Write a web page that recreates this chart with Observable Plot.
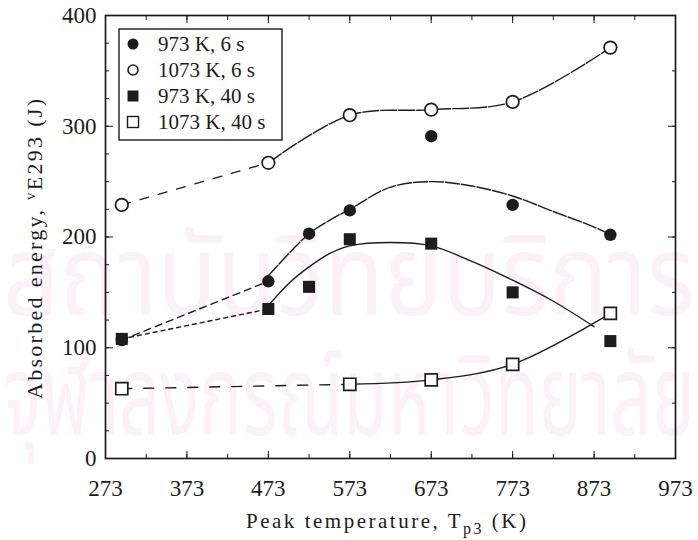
<!DOCTYPE html>
<html><head><meta charset="utf-8">
<script src="https://cdn.jsdelivr.net/npm/d3@7"></script>
<script src="https://cdn.jsdelivr.net/npm/@observablehq/plot@0.6"></script>
<style>
body{margin:0;background:#fff}
#chart{position:relative;width:698px;height:540px}
</style>
</head><body><div id="chart"></div>
<script>
// Measured data (peak temperature Tp3 in K, absorbed energy in J)
const temps = [293, 473, 523, 573, 673, 773, 893];
const e973_6 = [107, 160, 203, 224, 291, 229, 202];       // 973 K, 6 s (filled circle)
const temps1073_6 = [293, 473, 573, 673, 773, 893];
const e1073_6 = [229, 267, 310, 315, 322, 371];            // 1073 K, 6 s (open circle)
const e973_40 = [108, 135, 155, 198, 194, 150, 106];      // 973 K, 40 s (filled square)
const temps1073_40 = [293, 573, 673, 773, 893];
const e1073_40 = [63, 67, 71, 85, 131];                    // 1073 K, 40 s (open square)

// Fitted curves
const fit973_6T = [473, 498, 523, 548, 573, 623, 673, 723, 773, 823, 873, 893];
const fit973_6 = [165, 185, 203, 215, 225, 245, 250, 246, 237, 223, 209, 202];
const fit973_40T = [473, 498, 523, 548, 573, 623, 673, 723, 773, 823, 873];
const fit973_40 = [138, 158, 173, 185, 192, 195, 192, 178, 161, 142, 119];

const xTicks = [273, 373, 473, 573, 673, 773, 873, 973];
const xMinor = d3.range(273, 974, 50);
const yTicks = [0, 100, 200, 300, 400];
const yMinorLeft = d3.range(0, 401, 25);
const yMinorRight = d3.range(0, 401, 50);

const legendLabels = ["973 K, 6 s", "1073 K, 6 s", "973 K, 40 s", "1073 K, 40 s"];

const pts = (xs, ys) => xs.map((x, i) => ({x, y: ys[i]}));
const ink = "#1c1c1c";
const serif = "'Liberation Serif', 'DejaVu Serif', serif";

const lineOpt = {x: "x", y: "y", stroke: ink, strokeWidth: 1.4};
const emptyFmt = () => "";

const plot = Plot.plot({
  width: 698, height: 540,
  marginLeft: 105, marginRight: 23, marginTop: 15, marginBottom: 82,
  style: {fontFamily: serif, background: "transparent", color: ink},
  x: {domain: [273, 973]},
  y: {domain: [0, 400]},
  marks: [
    // labels
    Plot.axisX({ticks: xTicks, tickSize: 0, tickPadding: 21, fontSize: 23, label: null}),
    Plot.axisY({ticks: yTicks, tickSize: 0, tickPadding: 9, fontSize: 23, label: null}),
    // inward ticks
    Plot.axisX({ticks: xMinor, tickSize: -4, tickFormat: emptyFmt, label: null}),
    Plot.axisX({ticks: xTicks, tickSize: -7, tickFormat: emptyFmt, label: null}),
    Plot.axisX({anchor: "top", ticks: xMinor, tickSize: -4, tickFormat: emptyFmt, label: null}),
    Plot.axisX({anchor: "top", ticks: xTicks, tickSize: -7, tickFormat: emptyFmt, label: null}),
    Plot.axisY({ticks: yMinorLeft, tickSize: -4, tickFormat: emptyFmt, label: null}),
    Plot.axisY({ticks: yTicks, tickSize: -8, tickFormat: emptyFmt, label: null}),
    Plot.axisY({anchor: "right", ticks: yMinorRight, tickSize: -4, tickFormat: emptyFmt, label: null}),
    Plot.axisY({anchor: "right", ticks: yTicks, tickSize: -8, tickFormat: emptyFmt, label: null}),

    // lines
    Plot.line(pts(temps.slice(0, 2), e973_6.slice(0, 2)), {...lineOpt, strokeDasharray: "7,5"}),
    Plot.line(pts(fit973_6T, fit973_6), {...lineOpt, curve: "catmull-rom", strokeDasharray: "14,2"}),
    Plot.line(pts(temps1073_6.slice(0, 2), e1073_6.slice(0, 2)), {...lineOpt, strokeDasharray: "9,10"}),
    Plot.line(pts(temps1073_6.slice(1), e1073_6.slice(1)), {...lineOpt, curve: "catmull-rom", strokeDasharray: "16,2"}),
    Plot.line(pts(temps.slice(0, 2), e973_40.slice(0, 2)), {...lineOpt, strokeDasharray: "4,4"}),
    Plot.line(pts(fit973_40T, fit973_40), {...lineOpt, curve: "catmull-rom"}),
    Plot.line(pts(temps1073_40.slice(0, 2), e1073_40.slice(0, 2)), {...lineOpt, strokeDasharray: "10,12"}),
    Plot.line(pts(temps1073_40.slice(1), e1073_40.slice(1)), {...lineOpt, curve: "catmull-rom"}),

    // points
    Plot.dot(pts(temps, e973_6), {x: "x", y: "y", r: 6.2, fill: ink, stroke: null}),
    Plot.dot(pts(temps1073_6, e1073_6), {x: "x", y: "y", r: 6.3, fill: "white", stroke: ink, strokeWidth: 1.7}),
    Plot.dot(pts(temps, e973_40), {x: "x", y: "y", symbol: "square", r: 6.8, fill: ink, stroke: null}),
    Plot.dot(pts(temps1073_40, e1073_40), {x: "x", y: "y", symbol: "square", r: 6.8, fill: "white", stroke: ink, strokeWidth: 1.7}),

    Plot.frame({stroke: ink, strokeWidth: 1.7})
  ]
});

document.getElementById("chart").appendChild(plot);
const svg = d3.select(plot);

// faint watermark behind the chart
const wm = svg.insert("g", ":first-child").attr("fill", "#fbf1f6").attr("text-anchor", "start")
  .attr("font-family", "'Noto Sans Thai', 'Noto Sans', 'DejaVu Sans', sans-serif");
wm.append("text").attr("x", 3).attr("y", 315).attr("font-size", 112)
  .attr("textLength", 692).attr("lengthAdjust", "spacingAndGlyphs").text("สถาบันวิทยบริการ");
wm.append("text").attr("x", 3).attr("y", 435).attr("font-size", 112)
  .attr("textLength", 692).attr("lengthAdjust", "spacingAndGlyphs").text("จุฬาลงกรณ์มหาวิทยาลัย");

// axis titles
const xt = svg.append("text").attr("x", 386).attr("y", 528).attr("text-anchor", "middle")
  .attr("font-family", serif).attr("font-size", 21).attr("fill", ink)
  .attr("textLength", 280).attr("lengthAdjust", "spacing");
xt.append("tspan").text("Peak temperature, T");
xt.append("tspan").attr("font-size", 16).attr("dy", 6).text("p3");
xt.append("tspan").attr("dy", -6).text(" (K)");

const yt = svg.append("text").attr("transform", "translate(42,249) rotate(-90)").attr("text-anchor", "middle")
  .attr("font-family", serif).attr("font-size", 22).attr("fill", ink)
  .attr("textLength", 300).attr("lengthAdjust", "spacing");
yt.append("tspan").text("Absorbed energy, ");
yt.append("tspan").attr("font-size", 15).attr("dy", -7).text("v");
yt.append("tspan").attr("dy", 7).text("E293 (J)");

// legend
const lg = svg.append("g").attr("font-family", serif).attr("font-size", 21).attr("fill", ink).attr("text-anchor", "start");
lg.append("rect").attr("x", 119).attr("y", 29).attr("width", 163).attr("height", 111)
  .attr("fill", "white").attr("stroke", ink).attr("stroke-width", 1.4);
const rowY = [44, 70, 96, 122];
const sx = 133;
lg.append("circle").attr("cx", sx).attr("cy", rowY[0]).attr("r", 5.5).attr("fill", ink);
lg.append("circle").attr("cx", sx).attr("cy", rowY[1]).attr("r", 5).attr("fill", "white").attr("stroke", ink).attr("stroke-width", 1.6);
lg.append("rect").attr("x", sx - 5.5).attr("y", rowY[2] - 5.5).attr("width", 11).attr("height", 11).attr("fill", ink);
lg.append("rect").attr("x", sx - 5.5).attr("y", rowY[3] - 5.5).attr("width", 11).attr("height", 11).attr("fill", "white").attr("stroke", ink).attr("stroke-width", 1.4);
legendLabels.forEach((t, i) => {
  lg.append("text").attr("x", 158).attr("y", rowY[i] + 7).text(t);
});
</script>
</body></html>
